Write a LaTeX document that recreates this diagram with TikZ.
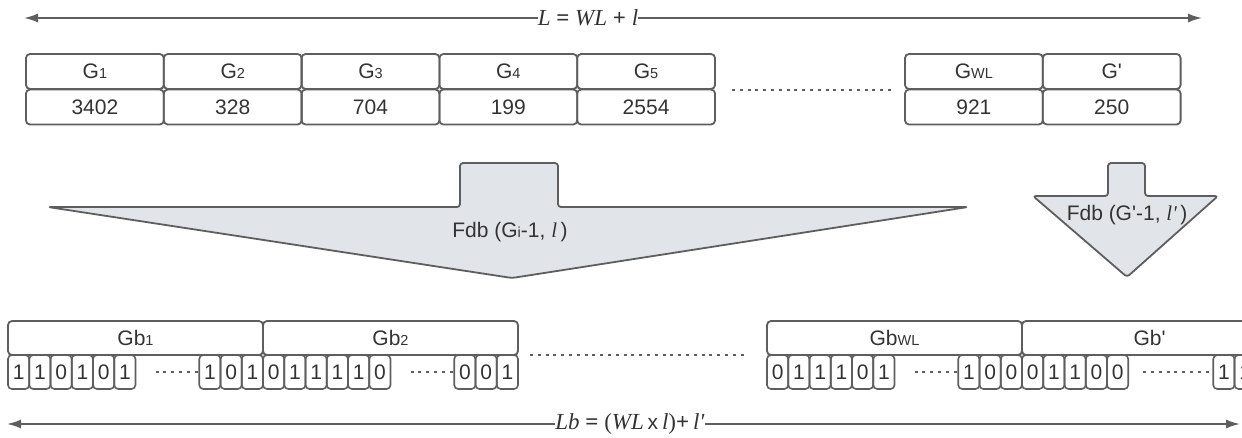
\documentclass[tikz,border=0pt]{standalone}
\usepackage{fontspec}
\setmainfont{Liberation Sans}
\newfontfamily\serifit{Liberation Serif}[ItalicFont=* Italic]
\usetikzlibrary{arrows.meta,calc}
\definecolor{linegray}{HTML}{5E5E5E}
\definecolor{textgray}{HTML}{333333}
\definecolor{arrowfill}{HTML}{E1E4E9}
\newcommand\smallpart[1]{{\fontsize{14.5}{14.5}\selectfont #1}}
\newcommand\ital[1]{{\serifit\itshape #1}}
\newcommand\sq{\textquotesingle}
\begin{document}
\begin{tikzpicture}[x=1pt,y=-1pt,
  cellbox/.style={draw=linegray, line width=1.8pt, rounded corners=4pt,
    minimum width=137.8pt, minimum height=35pt, inner sep=0pt, outer sep=0pt,
    font=\fontsize{21}{21}\selectfont, text=textgray, anchor=north west},
  gbbox/.style={cellbox, minimum width=255pt, minimum height=34pt},
  bitbox/.style={draw=linegray, line width=1.6pt, rounded corners=4pt,
    minimum width=21.25pt, minimum height=34pt, inner sep=0pt, outer sep=0pt,
    font=\fontsize{21}{21}\selectfont, text=textgray, anchor=north west},
  dots/.style={draw=linegray, line width=2pt, dash pattern=on 3pt off 4.8pt},
  bigarrow/.style={draw=linegray, line width=1.8pt, fill=arrowfill, rounded corners=3pt, line join=round},
  measure/.style={draw=linegray, line width=1.7pt, -{Latex[length=14pt,width=9pt]}},
  mlabel/.style={inner sep=0pt, outer sep=0pt, text=textgray, font=\serifit\fontsize{23}{23}\selectfont},
  flabel/.style={inner sep=0pt, text=textgray, font=\fontsize{21}{21}\selectfont}]
\useasboundingbox (0,0) rectangle (1242,437);
\clip (0,0) rectangle (1242,437);

% overall length of the grouped sequence
\node[mlabel] (Ltop) at (588,18) {\textit{L} \textbf{=} \textit{WL} \textbf{+} \textit{l}};
\coordinate (tl) at (24,18);
\coordinate (tr) at (1202,18);
\draw[measure] (Ltop.west) -- (tl);
\draw[measure] (Ltop.east) -- (tr);

% decimal groups: headers and values
\foreach \name/\lab/\val [count=\i from 0] in
  {g1/G\smallpart{1}/3402, g2/G\smallpart{2}/328, g3/G\smallpart{3}/704,
   g4/G\smallpart{4}/199, g5/G\smallpart{5}/2554} {
  \node[cellbox] (\name h) at (26+\i*137.8,54) {\lab};
  \node[cellbox] (\name v) at (26+\i*137.8,89.5) {\val};
}
\node[cellbox] (gwlh) at (905,54) {G\smallpart{WL}};
\node[cellbox] (gwlv) at (905,89.5) {921};
\node[cellbox] (gph) at (1042.8,54) {G\sq};
\node[cellbox] (gpv) at (1042.8,89.5) {250};
\coordinate (dtA) at (732,90);
\coordinate (dtB) at (893,90);
\draw[dots] (dtA) -- (dtB);

% conversion of full groups
\draw[bigarrow] (460,163) -- (558,163) -- (558,207) -- (968,207)
  -- (512,278) -- (48,207) -- (460,207) -- cycle;
\node[flabel] (fdb) at (510,232) {Fdb (G\smallpart{i}-1, \ital{l}\,)};

% conversion of the remainder group
\draw[bigarrow] (1108,163) -- (1145,163) -- (1145,196) -- (1218,196)
  -- (1127,277) -- (1033,196) -- (1108,196) -- cycle;
\node[flabel] (fdbp) at (1127,215) {Fdb (G\sq-1, \ital{l'}\,)};

% binary groups
\node[gbbox] (gb1) at (8,321) {Gb\smallpart{1}};
\node[gbbox] (gb2) at (263,321) {Gb\smallpart{2}};
\node[gbbox] (gbwl) at (767,321) {Gb\smallpart{WL}};
\node[gbbox] (gbp) at (1022,321) {Gb\sq};
\coordinate (dbA) at (530,355);
\coordinate (dbB) at (748,355);
\draw[dots] (dbA) -- (dbB);

% bit cells: leading bits, gap, trailing bits
\foreach \grp/\x/\lead/\trail in
  {a/8/{1,1,0,1,0,1}/{1,0,1},
   b/263/{0,1,1,1,1,0}/{0,0,1},
   c/767/{0,1,1,1,0,1}/{1,0,0},
   d/1022/{0,1,1,0,0}/{1,1,0}} {
  \foreach \b [count=\k from 0] in \lead
    \node[bitbox] (\grp-\k) at (\x+\k*21.25,355) {\b};
  \foreach \b [count=\k from 9] in \trail
    \node[bitbox] (\grp-\k) at (\x+\k*21.25,355) {\b};
}
\draw[dots] ($(a-5.east)+(20,0)$) -- (a-9.west);
\draw[dots] ($(b-5.east)+(20,0)$) -- (b-9.west);
\draw[dots] ($(c-5.east)+(20,0)$) -- (c-9.west);
\draw[dots] ($(d-4.east)+(15,0)$) -- (d-9.west);

% overall length of the binary sequence
\node[mlabel] (Lbot) at (630,424) {\textit{Lb} \textbf{=} (\textit{WL}\,{\rmfamily\fontsize{21}{21}\selectfont x}\,\textit{l})\textbf{+}\,\textit{l'}};
\coordinate (bl) at (7,424);
\coordinate (br) at (1240,424);
\draw[measure] (Lbot.west) -- (bl);
\draw[measure] (Lbot.east) -- (br);
\end{tikzpicture}
\end{document}
